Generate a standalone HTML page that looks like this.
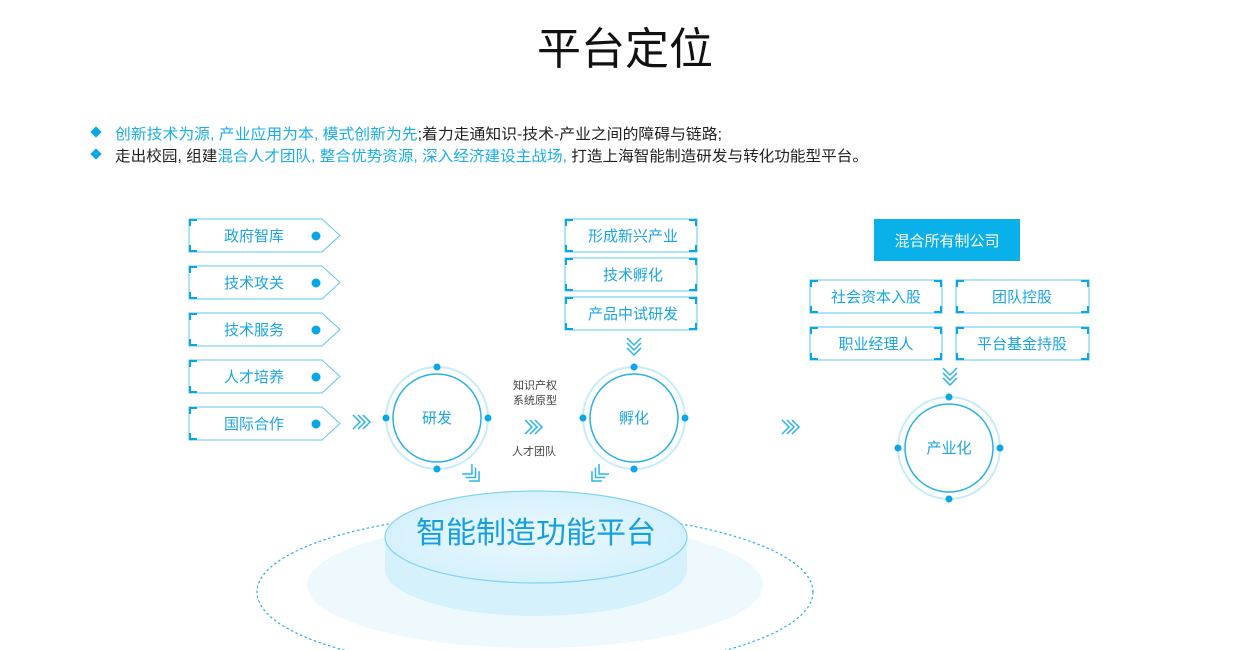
<!DOCTYPE html>
<html><head><meta charset="utf-8"><style>
body{margin:0;background:#fff;}
svg{display:block;font-family:"Liberation Sans","Noto Sans CJK SC",sans-serif;}
</style></head><body>
<svg width="1250" height="650" viewBox="0 0 1250 650" xmlns="http://www.w3.org/2000/svg">
<defs>
<g id="chev" fill="none" stroke="#29b6ea" stroke-width="1.5">
<path d="M0,-7 L7,0 L0,7 M5,-7 L12,0 L5,7 M10,-7 L17,0 L10,7"/>
</g>
<g id="circ">
<circle r="51" fill="none" stroke="#c6ecfa" stroke-width="2"/>
<circle r="44" fill="#fff" stroke="#29b1e6" stroke-width="1.5"/>
<circle cx="0" cy="-51" r="3.5" fill="#0aa6e6"/>
<circle cx="0" cy="51" r="3.5" fill="#0aa6e6"/>
<circle cx="-51" cy="0" r="3.5" fill="#0aa6e6"/>
<circle cx="51" cy="0" r="3.5" fill="#0aa6e6"/>
</g>
<g id="lbox">
<path d="M0,0 H133 L151,16.5 L133,33 H0 Z" fill="#fff" stroke="#5cc8f0" stroke-width="1"/>
<path d="M1,7 V1 H8 M1,26 V32 H8" fill="none" stroke="#0aa6e6" stroke-width="2"/>
<circle cx="127" cy="17" r="4.5" fill="#0aa6e6"/>
</g>
<radialGradient id="plat" cx="50%" cy="50%" r="50%"><stop offset="0" stop-color="#eaf8fe"/><stop offset="1" stop-color="#d6f1fc"/></radialGradient>
</defs>

<text x="625" y="64" text-anchor="middle" font-size="44" fill="#111">平台定位</text>

<rect x="92" y="128" width="8" height="8" fill="#0aa6e6" transform="rotate(45 96 132)"/>
<rect x="92" y="150" width="8" height="8" fill="#0aa6e6" transform="rotate(45 96 154)"/>
<text x="115" y="139" font-size="15" textLength="607" lengthAdjust="spacingAndGlyphs"><tspan fill="#1aaee8">创新技术为源, 产业应用为本, 模式创新为先</tspan><tspan fill="#222">;着力走通知识-技术-产业之间的障碍与链路;</tspan></text>
<text x="115" y="161" font-size="15" textLength="753" lengthAdjust="spacingAndGlyphs"><tspan fill="#222">走出校园, 组建</tspan><tspan fill="#1aaee8">混合人才团队, 整合优势资源, 深入经济建设主战场,</tspan><tspan fill="#222"> 打造上海智能制造研发与转化功能型平台。</tspan></text>

<ellipse cx="535" cy="592" rx="278" ry="80" fill="none" stroke="#29b1e6" stroke-width="1.2" stroke-dasharray="2.5,2.5"/>
<ellipse cx="535" cy="585" rx="228" ry="63" fill="#eef9fe"/>
<path d="M385,537 V570 A151,46 0 0 0 687,570 V537 Z" fill="#d5f1fc"/>
<ellipse cx="536" cy="537" rx="151" ry="46" fill="url(#plat)" stroke="#7fd3f3" stroke-width="1.2"/>
<text x="536" y="543" text-anchor="middle" font-size="30" fill="#159fdf">智能制造功能平台</text>

<g font-size="15" fill="#1aa5e3" text-anchor="middle">
<use href="#lbox" x="189" y="219"/><text x="254" y="241">政府智库</text>
<use href="#lbox" x="189" y="266"/><text x="254" y="288">技术攻关</text>
<use href="#lbox" x="189" y="313"/><text x="254" y="335">技术服务</text>
<use href="#lbox" x="189" y="360"/><text x="254" y="382">人才培养</text>
<use href="#lbox" x="189" y="407"/><text x="254" y="429">国际合作</text>
</g>

<use href="#chev" x="353" y="422"/>
<use href="#circ" x="437" y="418"/>
<text x="437" y="423" text-anchor="middle" font-size="15" fill="#1aa5e3">研发</text>

<g font-size="11" fill="#444" text-anchor="middle">
<text x="535" y="389">知识产权</text>
<text x="535" y="404">系统原型</text>
<text x="534" y="455">人才团队</text>
</g>
<use href="#chev" x="525" y="427"/>

<use href="#circ" x="634" y="418"/>
<text x="634" y="423" text-anchor="middle" font-size="15" fill="#1aa5e3">孵化</text>

<use href="#chev" transform="translate(467,469) rotate(45)"/>
<use href="#chev" transform="translate(604,469) rotate(135)"/>

<g fill="#fff" stroke="#5cc8f0" stroke-width="1">
<rect x="565" y="219" width="132" height="33"/>
<rect x="565" y="258" width="132" height="33"/>
<rect x="565" y="297" width="132" height="33"/>
</g>
<g fill="none" stroke="#0aa6e6" stroke-width="2">
<path d="M566,226 V220 H573 M689,220 H696 V226 M566,245 V251 H573 M689,251 H696 V245"/>
<path d="M566,265 V259 H573 M689,259 H696 V265 M566,284 V290 H573 M689,290 H696 V284"/>
<path d="M566,304 V298 H573 M689,298 H696 V304 M566,323 V329 H573 M689,329 H696 V323"/>
</g>
<g font-size="15" fill="#1aa5e3" text-anchor="middle">
<text x="633" y="241">形成新兴产业</text>
<text x="633" y="280">技术孵化</text>
<text x="633" y="319">产品中试研发</text>
</g>
<use href="#chev" transform="translate(634,338) rotate(90)"/>

<use href="#chev" x="782" y="427"/>

<rect x="874" y="219" width="146" height="42" fill="#0ab0ea"/>
<text x="947" y="246" text-anchor="middle" font-size="15" fill="#fff">混合所有制公司</text>
<g fill="#fff" stroke="#5cc8f0" stroke-width="1">
<rect x="810" y="280" width="132" height="33"/>
<rect x="956" y="280" width="133" height="33"/>
<rect x="810" y="327" width="132" height="33"/>
<rect x="956" y="327" width="133" height="33"/>
</g>
<g fill="none" stroke="#0aa6e6" stroke-width="2">
<path d="M811,287 V281 H818 M934,281 H941 V287 M811,306 V312 H818 M934,312 H941 V306"/>
<path d="M957,287 V281 H964 M1081,281 H1088 V287 M957,306 V312 H964 M1081,312 H1088 V306"/>
<path d="M811,334 V328 H818 M934,328 H941 V334 M811,353 V359 H818 M934,359 H941 V353"/>
<path d="M957,334 V328 H964 M1081,328 H1088 V334 M957,353 V359 H964 M1081,359 H1088 V353"/>
</g>
<g font-size="15" fill="#1aa5e3" text-anchor="middle">
<text x="876" y="302">社会资本入股</text>
<text x="1022" y="302">团队控股</text>
<text x="876" y="349">职业经理人</text>
<text x="1022" y="349">平台基金持股</text>
</g>
<use href="#chev" transform="translate(950,368) rotate(90)"/>
<use href="#circ" x="949" y="448"/>
<text x="949" y="453" text-anchor="middle" font-size="15" fill="#1aa5e3">产业化</text>
</svg>
</body></html>
